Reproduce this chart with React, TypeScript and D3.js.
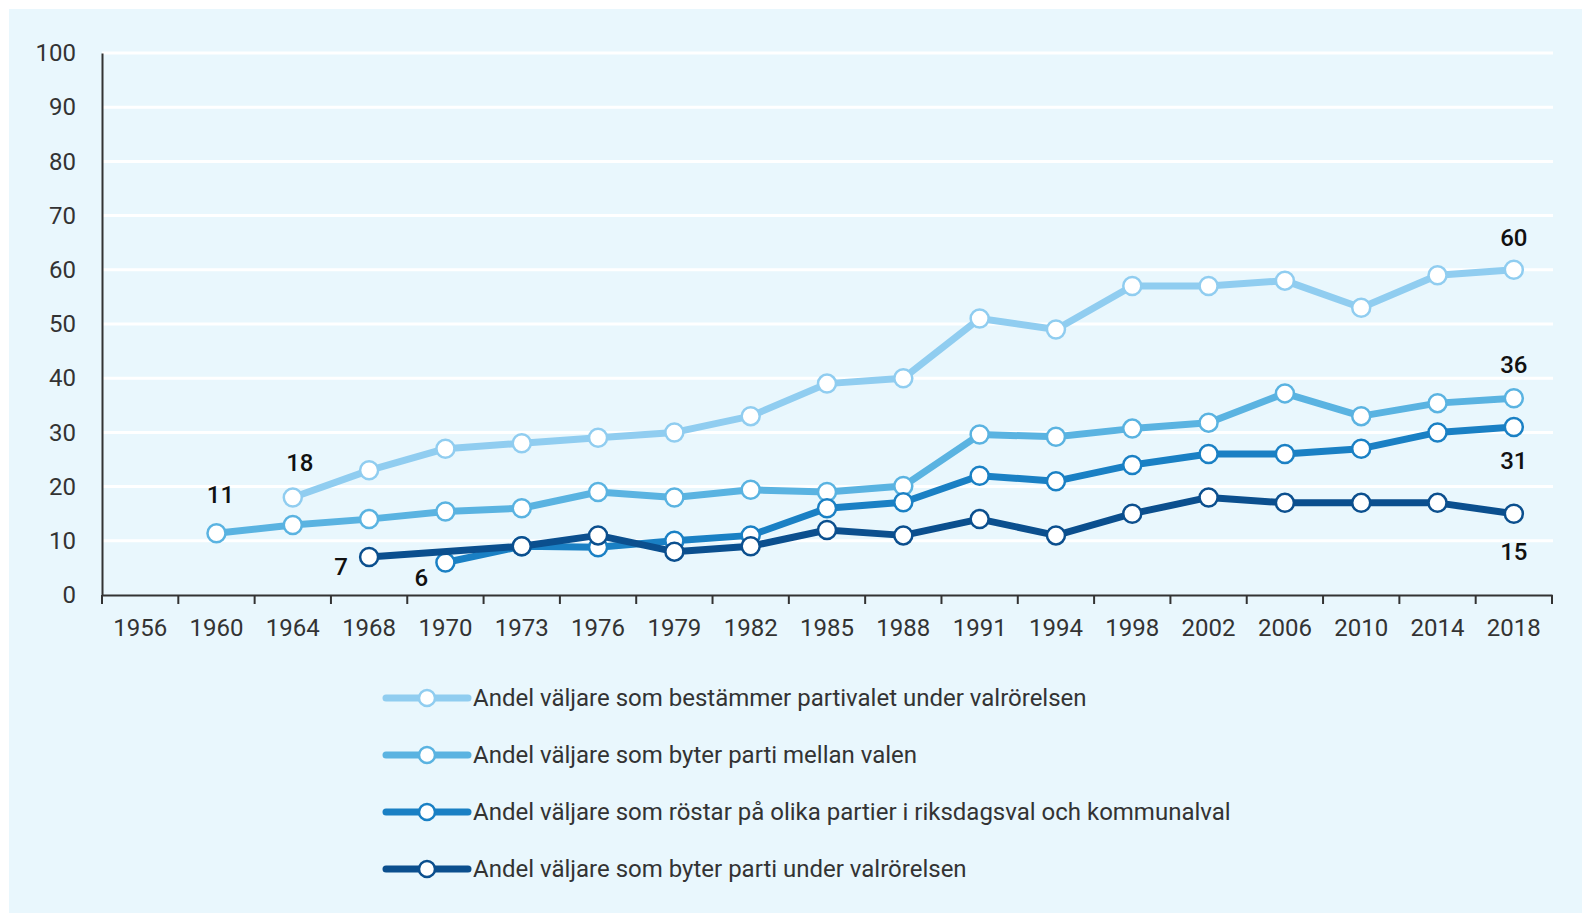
import React from 'react'
import * as d3 from 'd3'

const years = ['1956', '1960', '1964', '1968', '1970', '1973', '1976', '1979', '1982', '1985', '1988', '1991', '1994', '1998', '2002', '2006', '2010', '2014', '2018']
const yTicks = [0, 10, 20, 30, 40, 50, 60, 70, 80, 90, 100]

// null = no value that year
const bestammerValues = [null, null, 18, 23, 27, 28, 29, 30, 33, 39, 40, 51, 49, 57, 57, 58, 53, 59, 60]
const byterMellanValues = [null, 11.4, 12.9, 14, 15.4, 16, 19, 18, 19.4, 19, 20.1, 29.6, 29.2, 30.7, 31.8, 37.2, 33, 35.4, 36.3]
const rostarOlikaValues = [null, null, null, null, 6, 9, 8.8, 10, 11, 16, 17.1, 22, 21, 24, 26, 26, 27, 30, 31]
const byterUnderValues = [null, null, null, 7, null, 9, 11, 8, 9, 12, 11, 14, 11, 15, 18, 17, 17, 17, 15]

const seriesNames = [
  'Andel väljare som bestämmer partivalet under valrörelsen',
  'Andel väljare som byter parti mellan valen',
  'Andel väljare som röstar på olika partier i riksdagsval och kommunalval',
  'Andel väljare som byter parti under valrörelsen',
]
const seriesColors = ['#90cdf0', '#5ab3e1', '#1a80c4', '#0b4f8e']
const seriesValues = [bestammerValues, byterMellanValues, rostarOlikaValues, byterUnderValues]

// value labels: [series index, year, text, dx, dy]
const valueLabels: [number, string, string, number, number][] = [
  [1, '1960', '11', 4, -30],
  [0, '1964', '18', 7, -26],
  [3, '1968', '7', -28, 18],
  [2, '1970', '6', -24, 24],
  [0, '2018', '60', 0, -24],
  [1, '2018', '36', 0, -25],
  [2, '2018', '31', 0, 42],
  [3, '2018', '15', 0, 46],
]

const width = 1582
const height = 913
const margin = { top: 53, right: 30, bottom: 318, left: 102 }
const font = "Roboto, 'Noto Sans', Arial, sans-serif"

export default function App() {
  const svgRef = React.useRef<SVGSVGElement>(null)

  React.useEffect(() => {
    const svg = d3.select(svgRef.current)
    svg.selectAll('*').remove()

    const xScale = d3.scaleBand().domain(years).range([margin.left, 1552])
    const yScale = d3.scaleLinear().domain([0, 100]).range([height - margin.bottom, margin.top])
    const xPos = (y: string) => (xScale(y) as number) + xScale.bandwidth() / 2

    // background panel
    svg.append('rect').attr('x', 9).attr('y', 9).attr('width', width - 9).attr('height', height - 9).attr('fill', '#e9f7fd')

    // white gridlines
    svg
      .append('g')
      .selectAll('line')
      .data(yTicks.filter((t) => t > 0))
      .enter()
      .append('line')
      .attr('x1', margin.left)
      .attr('x2', 1553)
      .attr('y1', (d) => yScale(d))
      .attr('y2', (d) => yScale(d))
      .attr('stroke', '#ffffff')
      .attr('stroke-width', 3)

    // Y Axis
    const yAxis = svg
      .append('g')
      .attr('transform', `translate(${margin.left}, 0)`)
      .call(d3.axisLeft(yScale).tickValues(yTicks).tickSize(0).tickPadding(26))
    yAxis.select('.domain').attr('stroke', '#333').attr('stroke-width', 2)
    yAxis.selectAll('text').attr('font-size', 24).attr('font-family', font).attr('fill', '#333')

    // X Axis
    const xAxis = svg
      .append('g')
      .attr('transform', `translate(0, ${height - margin.bottom})`)
      .call(d3.axisBottom(xScale).tickSize(0).tickPadding(24))
    xAxis.select('.domain').attr('stroke', '#333').attr('stroke-width', 2)
    xAxis.selectAll('text').attr('font-size', 24).attr('font-family', font).attr('fill', '#333')
    // ticks at band edges
    const edges = years.map((y) => xScale(y) as number).concat([1552])
    svg
      .append('g')
      .selectAll('line')
      .data(edges)
      .enter()
      .append('line')
      .attr('x1', (d) => d)
      .attr('x2', (d) => d)
      .attr('y1', height - margin.bottom)
      .attr('y2', height - margin.bottom + 9)
      .attr('stroke', '#333')
      .attr('stroke-width', 2)

    // lines and markers
    seriesValues.forEach((vals, si) => {
      const pts = years
        .map((y, i) => ({ year: y, v: vals[i] }))
        .filter((d) => d.v !== null) as { year: string; v: number }[]
      const line = d3
        .line<{ year: string; v: number }>()
        .x((d) => xPos(d.year))
        .y((d) => yScale(d.v))
      svg
        .append('path')
        .datum(pts)
        .attr('d', line)
        .attr('fill', 'none')
        .attr('stroke', seriesColors[si])
        .attr('stroke-width', 7)
        .attr('stroke-linejoin', 'round')
      svg
        .append('g')
        .selectAll('circle')
        .data(pts)
        .enter()
        .append('circle')
        .attr('cx', (d) => xPos(d.year))
        .attr('cy', (d) => yScale(d.v))
        .attr('r', 9)
        .attr('fill', '#ffffff')
        .attr('stroke', seriesColors[si])
        .attr('stroke-width', 2.5)
    })

    // value labels
    valueLabels.forEach(([si, year, text, dx, dy]) => {
      const v = seriesValues[si][years.indexOf(year)] as number
      svg
        .append('text')
        .attr('x', xPos(year) + dx)
        .attr('y', yScale(v) + dy)
        .attr('text-anchor', 'middle')
        .attr('font-size', 24)
        .attr('font-weight', 500)
        .attr('font-family', font)
        .attr('fill', '#111')
        .text(text)
    })

    // legend
    const legend = svg.append('g')
    seriesNames.forEach((name, i) => {
      const ly = 698 + i * 57
      legend
        .append('line')
        .attr('x1', 386)
        .attr('x2', 468)
        .attr('y1', ly)
        .attr('y2', ly)
        .attr('stroke', seriesColors[i])
        .attr('stroke-width', 7)
        .attr('stroke-linecap', 'round')
      legend
        .append('circle')
        .attr('cx', 427)
        .attr('cy', ly)
        .attr('r', 8)
        .attr('fill', '#ffffff')
        .attr('stroke', seriesColors[i])
        .attr('stroke-width', 2.5)
      legend
        .append('text')
        .attr('x', 473)
        .attr('y', ly + 8)
        .attr('font-size', 24)
        .attr('font-family', font)
        .attr('fill', '#333')
        .text(name)
    })
  }, [])

  return (
    <div style={{ position: 'absolute', left: 0, top: 0 }}>
      <svg ref={svgRef} width={width} height={height} style={{ display: 'block' }}></svg>
    </div>
  )
}
